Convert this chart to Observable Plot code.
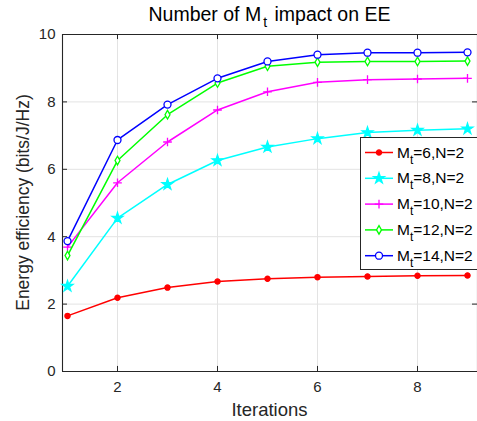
<!DOCTYPE html>
<html>
<head>
<meta charset="utf-8">
<script src="https://cdn.jsdelivr.net/npm/d3@7"></script>
<script src="https://cdn.jsdelivr.net/npm/@observablehq/plot@0.6"></script>
<style>
  html, body { margin: 0; padding: 0; background: #fff; }
  #chart svg { display: block; }
</style>
</head>
<body>
<div id="chart"></div>
<script>
const iterations = [1, 2, 3, 4, 5, 6, 7, 8, 9];
const mt6  = [1.65, 2.19, 2.49, 2.67, 2.75, 2.80, 2.82, 2.84, 2.85];
const mt8  = [2.53, 4.55, 5.55, 6.26, 6.66, 6.91, 7.09, 7.16, 7.20];
const mt10 = [3.69, 5.60, 6.81, 7.76, 8.30, 8.58, 8.66, 8.68, 8.70];
const mt12 = [3.44, 6.26, 7.62, 8.56, 9.06, 9.18, 9.20, 9.20, 9.21];
const mt14 = [3.87, 6.87, 7.92, 8.70, 9.20, 9.40, 9.46, 9.46, 9.47];
const seriesMt = [6, 8, 10, 12, 14];
const seriesValues = [mt6, mt8, mt10, mt12, mt14];
const seriesColors = ["#ff0000", "#00ffff", "#ff00ff", "#00ff00", "#0000ff"];
const seriesSymbols = ["circle", "star", "plus", "diamond", "circle"];
const seriesFilled = [true, true, false, false, false];
const xTicks = [2, 4, 6, 8];
const yTicks = [0, 2, 4, 6, 8, 10];
const titleText = "Number of M";
const xLabel = "Iterations";
const yLabel = "Energy efficiency (bits/J/Hz)";

const rows = [];
seriesMt.forEach((m, i) => {
  iterations.forEach((it, j) => rows.push({s: i, mt: m, x: it, y: seriesValues[i][j]}));
});

const FONT = '"Liberation Sans", Arial, Helvetica, sans-serif';
const xDom = [0.9, 9.2];
const yDom = [0, 10];
const axisColor = "#262626";
const gridColor = "#e3e3e3";
const symR = (i) => ({circle: i === 0 ? 2.6 : 3.5, star: 3.4, plus: 2.9, diamond: 2.6})[seriesSymbols[i]];

const marks = [
  Plot.ruleX(xTicks, {stroke: gridColor, strokeWidth: 1}),
  Plot.ruleY(yTicks, {stroke: gridColor, strokeWidth: 1}),
  Plot.ruleY([yDom[0]], {x1: xDom[0], x2: xDom[1], stroke: axisColor, strokeWidth: 1.1}),
  Plot.ruleY([yDom[1]], {x1: xDom[0], x2: xDom[1], stroke: axisColor, strokeWidth: 1.1}),
  Plot.ruleX([xDom[0]], {y1: yDom[0], y2: yDom[1], stroke: axisColor, strokeWidth: 1.1}),
  Plot.ruleX([xDom[1]], {y1: yDom[0], y2: yDom[1], stroke: axisColor, strokeWidth: 1.1}),
  Plot.ruleX(xTicks, {y1: 0, y2: 0.15, stroke: axisColor}),
  Plot.ruleX(xTicks, {y1: 10, y2: 9.85, stroke: axisColor}),
  Plot.ruleY(yTicks, {x1: xDom[0], x2: xDom[0] + 0.1, stroke: axisColor}),
  Plot.ruleY(yTicks, {x1: xDom[1], x2: xDom[1] - 0.1, stroke: axisColor}),
  Plot.axisX({ticks: xTicks, tickSize: 0, tickPadding: 10, fontSize: 15, color: axisColor, label: null}),
  Plot.axisY({ticks: yTicks, tickSize: 0, tickPadding: 7, fontSize: 15, color: axisColor, label: null})
];
seriesMt.forEach((m, i) => {
  const d = rows.filter(r => r.s === i);
  marks.push(Plot.line(d, {x: "x", y: "y", stroke: seriesColors[i], strokeWidth: 1.5}));
  marks.push(Plot.dot(d, {
    x: "x", y: "y", symbol: () => seriesSymbols[i],
    r: symR(i),
    stroke: seriesColors[i],
    fill: seriesFilled[i] ? seriesColors[i] : "white",
    strokeWidth: 1.3
  }));
});

const chart = Plot.plot({
  width: 477, height: 421,
  marginLeft: 62, marginRight: 0, marginTop: 34, marginBottom: 50,
  style: {fontFamily: FONT, background: "white"},
  x: {domain: xDom},
  y: {domain: yDom},
  symbol: {type: "identity"},
  marks
});
document.getElementById("chart").appendChild(chart);

const svg = d3.select(chart);
const xs = chart.scale("x"), ys = chart.scale("y");
const cx = (xs.apply(xDom[0]) + xs.apply(xDom[1])) / 2;
const cy = (ys.apply(yDom[0]) + ys.apply(yDom[1])) / 2;

const t = svg.append("text").attr("x", cx).attr("y", 21).attr("text-anchor", "middle")
  .attr("font-family", FONT).attr("font-size", 19.5).attr("fill", "#000");
t.append("tspan").text(titleText);
t.append("tspan").attr("dy", 6).attr("dx", 2).attr("font-size", 14).text("t");
t.append("tspan").attr("dy", -6).attr("dx", 2).text(" impact on EE");

svg.append("text").attr("x", cx).attr("y", 416).attr("text-anchor", "middle")
  .attr("font-family", FONT).attr("font-size", 18.5).attr("fill", axisColor).text(xLabel);
svg.append("text").attr("transform", `translate(29,${cy}) rotate(-90)`).attr("text-anchor", "middle")
  .attr("font-family", FONT).attr("font-size", 17.5).attr("fill", axisColor).text(yLabel);

const lg = svg.append("g").attr("font-family", FONT).attr("text-anchor", "start");
const lx = 360.5, ly = 137.5, lw = 120, lh = 132;
lg.append("rect").attr("x", lx).attr("y", ly).attr("width", lw).attr("height", lh)
  .attr("fill", "white").attr("stroke", axisColor).attr("stroke-width", 1);
seriesMt.forEach((m, i) => {
  const yy = 152.5 + i * 25.8;
  lg.append("line").attr("x1", 365).attr("x2", 393).attr("y1", yy).attr("y2", yy)
    .attr("stroke", seriesColors[i]).attr("stroke-width", 1.5);
  const sym = {circle: d3.symbolCircle, star: d3.symbolStar, plus: d3.symbolPlus, diamond: d3.symbolDiamond}[seriesSymbols[i]];
  const r = symR(i);
  lg.append("path").attr("d", d3.symbol(sym, Math.PI * r * r)()).attr("transform", `translate(379,${yy})`)
    .attr("stroke", seriesColors[i]).attr("stroke-width", 1.3)
    .attr("fill", seriesFilled[i] ? seriesColors[i] : "white");
  const tx = lg.append("text").attr("x", 397).attr("y", yy + 5).attr("font-size", 15.5).attr("fill", "#000");
  tx.append("tspan").text("M");
  tx.append("tspan").attr("dy", 6).attr("font-size", 12).text("t");
  tx.append("tspan").attr("dy", -6).text(`=${m},N=2`);
});
</script>
</body>
</html>
